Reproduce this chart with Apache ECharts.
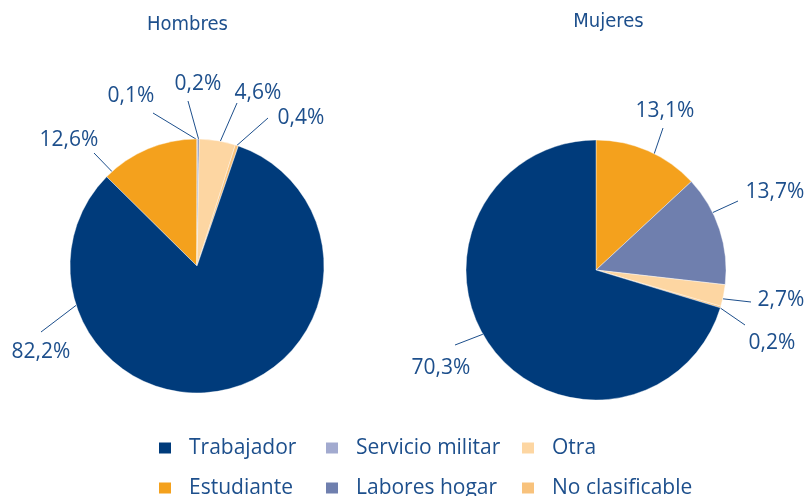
<!DOCTYPE html>
<html>
<head>
<meta charset="utf-8">
<script src="https://cdn.jsdelivr.net/npm/echarts@6/dist/echarts.min.js"></script>
<style>
  html, body { margin: 0; padding: 0; background: #fff; }
  #chart { width: 809px; height: 496px; }
</style>
</head>
<body>
<div id="chart"></div>
<script>
// categorias (orden de las porciones, en sentido horario)
const categories = ['Estudiante', 'Servicio militar', 'Labores hogar', 'Otra', 'No clasificable', 'Trabajador'];
const hombres = [12.6, 0.1, 0.2, 4.6, 0.4, 82.2];
const mujeres = [13.1, 0, 13.7, 2.7, 0.2, 70.3];
// orden de la leyenda (filas x columnas)
const legendItems = ['Trabajador', 'Servicio militar', 'Otra', 'Estudiante', 'Labores hogar', 'No clasificable'];

const colores = {
  'Trabajador': '#003B7B',
  'Servicio militar': '#A2AACF',
  'Otra': '#FDD6A2',
  'Estudiante': '#F4A11D',
  'Labores hogar': '#6F7FAE',
  'No clasificable': '#F8C27C'
};
const azul = '#1D4F8C';

const pies = [
  { center: [197, 266], radius: 127 },
  { center: [596, 270], radius: 130 }
];

// etiquetas: centro del texto, extremo exterior de la guia, angulo (grados, horario desde arriba) donde toca el borde
const labelPos = [
  {
    'Estudiante':       { text: [69, 140],  from: [94, 153],  angle: 318 },
    'Servicio militar': { text: [131, 96],  from: [153, 113], angle: 359.5 },
    'Labores hogar':    { text: [198, 84],  from: [188, 101], angle: 0.7 },
    'Otra':             { text: [258, 93],  from: [237, 103], angle: 10.6 },
    'No clasificable':  { text: [301, 118], from: [268, 118], angle: 18.3 },
    'Trabajador':       { text: [41, 352],  from: [41, 332],  angle: 252 }
  },
  {
    'Estudiante':      { text: [665, 111], from: [663, 128], angle: 26.6 },
    'Labores hogar':   { text: [775, 192], from: [738, 201], angle: 63.8 },
    'Otra':            { text: [781, 300], from: [751, 302], angle: 102.8 },
    'No clasificable': { text: [772, 343], from: [745, 325], angle: 107 },
    'Trabajador':      { text: [441, 368], from: [455, 345], angle: 240.4 }
  }
];

function buildData(values) {
  return categories
    .map((name, i) => ({ name: name, value: values[i], itemStyle: { color: colores[name] } }))
    .filter(d => d.value > 0);
}

const fmt = v => v.toFixed(1).replace('.', ',') + '%';

function edgePoint(idx, angle) {
  const p = pies[idx];
  const a = angle * Math.PI / 180;
  return [p.center[0] + p.radius * Math.sin(a), p.center[1] - p.radius * Math.cos(a)];
}

function pieSeries(values, startAngle, idx) {
  const data = buildData(values);
  return {
    type: 'pie',
    center: pies[idx].center,
    radius: pies[idx].radius,
    startAngle: startAngle,
    clockwise: true,
    animation: false,
    avoidLabelOverlap: false,
    itemStyle: { borderColor: '#fff', borderWidth: 0.4 },
    label: {
      show: true,
      position: 'outside',
      color: azul,
      fontSize: 21,
      fontFamily: "'Open Sans', sans-serif",
      formatter: p => fmt(p.value)
    },
    labelLine: { show: true, length: 10, length2: 0, lineStyle: { color: azul, width: 1 } },
    labelLayout: function (params) {
      const pos = labelPos[idx][data[params.dataIndex].name];
      return {
        x: pos.text[0], y: pos.text[1], align: 'center', verticalAlign: 'middle',
        labelLinePoints: [edgePoint(idx, pos.angle), pos.from]
      };
    },
    emphasis: { disabled: true },
    data: data
  };
}

const chart = echarts.init(document.getElementById('chart'));

const legendLeft = [152, 319, 515];
const legendTop = [432, 472];
const tituloStyle = { color: azul, fontSize: 20, fontWeight: 'normal', fontFamily: "'Liberation Sans Narrow', 'DejaVu Sans Condensed', sans-serif" };

const option = {
  backgroundColor: '#fff',
  title: [
    { text: 'Hombres', left: 182.5, top: 10, textAlign: 'center', textStyle: tituloStyle },
    { text: 'Mujeres', left: 603.5, top: 7, textAlign: 'center', textStyle: tituloStyle }
  ],
  legend: legendItems.map((name, i) => ({
    data: [name],
    left: legendLeft[i % 3],
    top: legendTop[Math.floor(i / 3)],
    icon: 'rect',
    itemWidth: 14,
    itemHeight: 13,
    symbolKeepAspect: false,
    selectedMode: false,
    textStyle: {
      color: azul, fontSize: 21, lineHeight: 22,
      fontFamily: "'Open Sans', sans-serif",
      padding: [0, 0, 0, 12]
    }
  })),
  series: [
    pieSeries(hombres, 90 + hombres[0] * 3.6, 0),
    pieSeries(mujeres, 90, 1)
  ]
};

chart.setOption(option);
</script>
</body>
</html>
